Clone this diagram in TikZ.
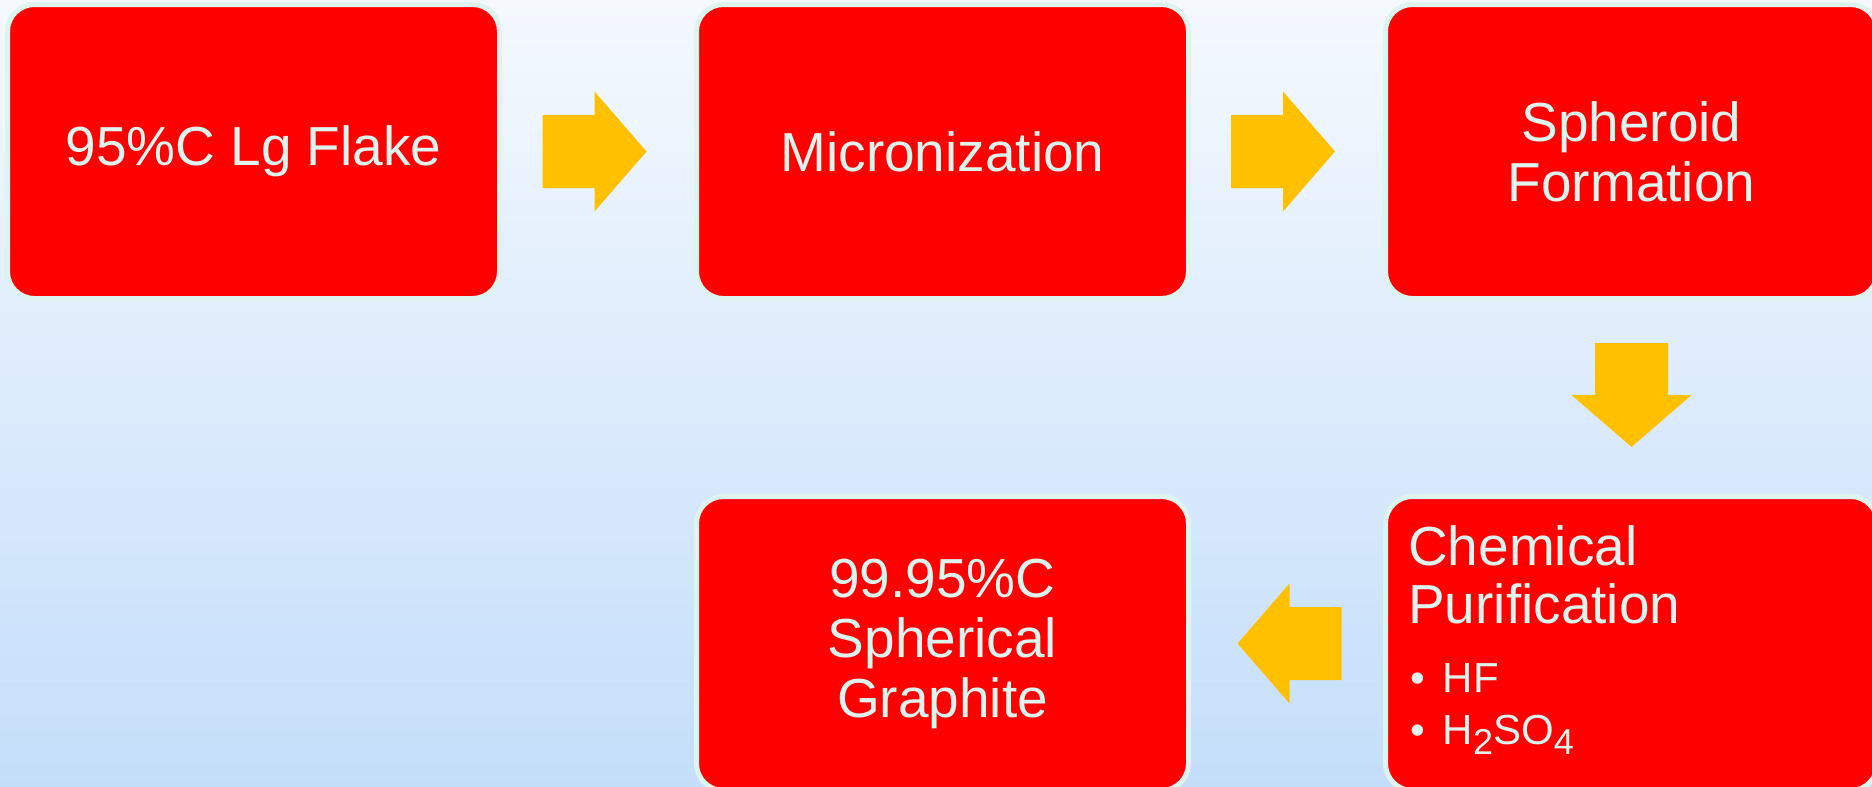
\documentclass[tikz,border=0pt]{standalone}
\usepackage{fontspec}
\setmainfont{Liberation Sans}
\usetikzlibrary{calc}
\definecolor{boxred}{HTML}{FF0000}
\definecolor{boxline}{HTML}{DDF4EF}
\definecolor{txt}{HTML}{DDF4EF}
\definecolor{arrowc}{HTML}{FFC000}
\definecolor{bgtop}{HTML}{F5F9FE}
\definecolor{bgbot}{HTML}{C4DEFA}
\newcommand{\lowsub}[1]{\raisebox{-10pt}{\fontsize{36}{36}\selectfont #1}}
\begin{document}
\begin{tikzpicture}[x=1pt,y=-1pt,
  stepbox/.style={draw=boxline, line width=5pt, fill=boxred, rounded corners=27pt,
    minimum width=492pt, minimum height=294pt, inner sep=0pt, text=txt,
    font=\fontsize{55}{60}\selectfont, align=center},
  bigtxt/.style={anchor=base west, inner sep=0pt, text=txt, font=\fontsize{55}{60}\selectfont},
  smalltxt/.style={anchor=base west, inner sep=0pt, text=txt, font=\fontsize{42}{48}\selectfont},
  pics/blockarrow/.style={code={\fill[arrowc] (-52,-36.5) -- (0,-36.5) -- (0,-60) -- (52,0) -- (0,60) -- (0,36.5) -- (-52,36.5) -- cycle;}}
]
\useasboundingbox (0,0) rectangle (1872,787);
\shade[top color=bgtop, bottom color=bgbot] (0,0) rectangle (1872,787);
\begin{scope}
\clip (0,0) rectangle (1872,787);
\node[stepbox] (b1) at (253.5,151.5) {95\%C Lg Flake};
\node[stepbox] (b2) at (942.5,151.5) {Micronization};
\node[stepbox] (b3) at (1631.5,151.5) {Spheroid\\Formation};
\node[stepbox] (b5) at (1631.5,643.5) {};
\node[stepbox] (b6) at (942.5,643.5) {99.95\%C\\Spherical\\Graphite};
\node[bigtxt] (t5a) at ($(b5.north west)+(25,71.5)$) {Chemical};
\node[bigtxt] (t5b) at ($(b5.north west)+(25,129.5)$) {Purification};
\node[smalltxt] (t5c) at ($(b5.north west)+(27,198.5)$) {•};
\node[smalltxt] (t5d) at ($(b5.north west)+(59.5,198.5)$) {HF};
\node[smalltxt] (t5e) at ($(b5.north west)+(27,250.5)$) {•};
\node[smalltxt] (t5f) at ($(b5.north west)+(59.5,250.5)$) {H\lowsub{2}SO\lowsub{4}};
\coordinate (a1) at ($($(b1.east)!0.5!(b2.west)$)+(-3.5,0)$);
\coordinate (a2) at ($($(b2.east)!0.5!(b3.west)$)+(-4,0)$);
\coordinate (a3) at ($($(b3.south)!0.5!(b5.north)$)+(0,-2.5)$);
\coordinate (a4) at ($($(b6.east)!0.5!(b5.west)$)+(2.5,0)$);
\pic at (a1) {blockarrow};
\pic at (a2) {blockarrow};
\pic[rotate=-90] at (a3) {blockarrow};
\pic[rotate=180] at (a4) {blockarrow};
\end{scope}
\end{tikzpicture}
\end{document}
